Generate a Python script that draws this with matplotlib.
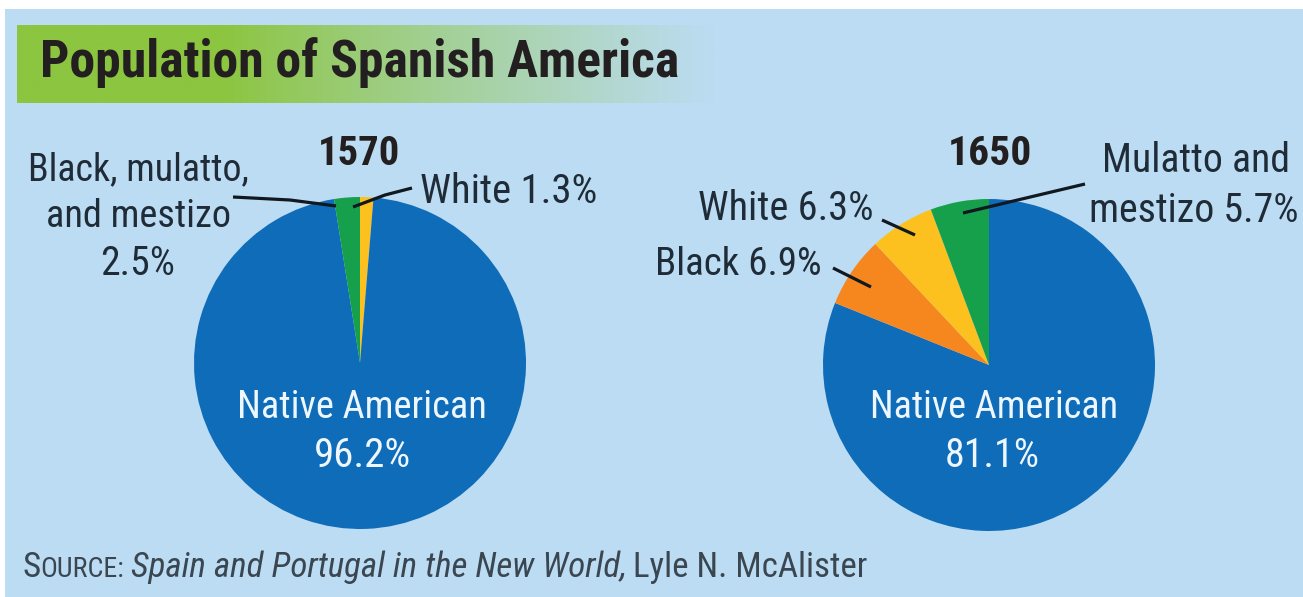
import matplotlib
matplotlib.use("Agg")
import matplotlib.pyplot as plt
import numpy as np
from matplotlib import font_manager
from matplotlib.patches import Rectangle
from matplotlib.colors import to_rgb

# ---------------- data ----------------
title = "Population of Spanish America"
years = ["1570", "1650"]

labels_1570 = ["White", "Native American", "Black, mulatto, and mestizo"]
values_1570 = [1.3, 96.2, 2.5]

labels_1650 = ["Native American", "Black", "White", "Mulatto and mestizo"]
values_1650 = [81.1, 6.9, 6.3, 5.7]

source_parts = ["S", "OURCE:", "Spain and Portugal in the New World,", "Lyle N. McAlister"]

# ---------------- style ----------------
W, H, DPI = 1303, 597, 100
BG = "#bcdcf3"
BLUE = "#0f6cb8"
GREEN = "#17a04b"
YELLOW = "#fdc11f"
ORANGE = "#f6871f"
BANNER = "#8cc540"
TXT = "#1f2c37"
WHITE_TXT = "#eef7ff"

colors_1570 = [YELLOW, BLUE, GREEN]
colors_1650 = [BLUE, ORANGE, YELLOW, GREEN]

names = {f.name for f in font_manager.fontManager.ttflist}
FONT = "DejaVu Sans"
for cand in ["Liberation Sans Narrow", "Roboto Condensed", "Open Sans Condensed",
             "Liberation Sans", "Roboto"]:
    if cand in names:
        FONT = cand
        break
plt.rcParams["font.family"] = [FONT, "DejaVu Sans"]

fig = plt.figure(figsize=(W / DPI, H / DPI), dpi=DPI, facecolor="white")

# background axes in pixel coordinates
bg = fig.add_axes([0, 0, 1, 1])
bg.add_patch(Rectangle((5, 9), W - 5, H - 9, color=BG, zorder=0, lw=0))
# green banner fading into the background
xs = np.linspace(0, 1, 400)
t = np.clip((xs - 0.30) / 0.70, 0, 1) ** 0.9
c0, c1 = np.array(to_rgb(BANNER)), np.array(to_rgb(BG))
row = c0[None, :] * (1 - t[:, None]) + c1[None, :] * t[:, None]
grad = np.repeat(row[None, :, :], 2, axis=0)
bg.imshow(grad, extent=(17, 715, 103, 25), aspect="auto", zorder=1, interpolation="bilinear")
bg.set_xlim(0, W)
bg.set_ylim(H, 0)
bg.axis("off")


def pie_axes(cx, cy, r):
    ax = fig.add_axes([(cx - r) / W, (H - cy - r) / H, 2 * r / W, 2 * r / H])
    ax.set_xlim(-1, 1)
    ax.set_ylim(-1, 1)
    ax.axis("off")
    return ax


ax1 = pie_axes(360, 363, 166)
ax1.pie(values_1570, colors=colors_1570, startangle=90, counterclock=False,
        radius=1, wedgeprops=dict(linewidth=0))
ax1.set_xlim(-1, 1); ax1.set_ylim(-1, 1)

ax2 = pie_axes(989, 365, 166)
ax2.pie(values_1650, colors=colors_1650, startangle=90, counterclock=False,
        radius=1, wedgeprops=dict(linewidth=0))
ax2.set_xlim(-1, 1); ax2.set_ylim(-1, 1)

# overlay axes for texts and leader lines (pixel coordinates)
ov = fig.add_axes([0, 0, 1, 1])
ov.set_xlim(0, W)
ov.set_ylim(H, 0)
ov.axis("off")
ov.patch.set_alpha(0)

fig.canvas.draw()
R = fig.canvas.get_renderer()


def fit(txt, target_w):
    bb = txt.get_window_extent(renderer=R)
    txt.set_fontsize(txt.get_fontsize() * target_w / bb.width)
    return txt


def put(x, y, s, w, ha="center", **kw):
    t = ov.text(x, y, s, ha=ha, va="baseline", fontsize=20, **kw)
    return fit(t, w)


# title
put(40, 77, title, 637, ha="left", fontweight="bold", color="#231f20")

# years
put(359, 165, years[0], 82, fontweight="bold", color="#231f20")
put(990, 165, years[1], 84, fontweight="bold", color="#231f20")

# 1570 labels
put(138, 180, "Black, mulatto,", 220, color=TXT)
put(138, 227, "and mestizo", 185, color=TXT)
put(138, 275, f"{values_1570[2]}%", 75, color=TXT)
put(420, 203, f"{labels_1570[0]} {values_1570[0]}%", 177, ha="left", color=TXT)
put(362, 418, labels_1570[1], 249, color=WHITE_TXT)
put(362, 467, f"{values_1570[1]}%", 97, color=WHITE_TXT)

# 1650 labels
put(1196, 172, "Mulatto and", 187, color=TXT)
put(1194, 222, f"mestizo {values_1650[3]}%", 210, color=TXT)
put(698, 220, f"{labels_1650[2]} {values_1650[2]}%", 175, ha="left", color=TXT)
put(655, 275, f"{labels_1650[1]} {values_1650[1]}%", 167, ha="left", color=TXT)
put(994, 418, labels_1650[0], 248, color=WHITE_TXT)
put(992, 467, f"{values_1650[0]}%", 95, color=WHITE_TXT)

# leader lines
lk = dict(color="#111820", lw=2.3, solid_capstyle="butt")
ov.plot([233, 290, 336], [197, 200, 206], **lk)
ov.plot([412, 385, 353], [188, 195, 207], **lk)
ov.plot([1085, 963], [184, 213], **lk)
ov.plot([882, 915], [220, 235], **lk)
ov.plot([833, 871], [268, 287], **lk)

# source line
base = 20
styles = [dict(fontsize=base), dict(fontsize=base * 0.8),
          dict(fontsize=base, style="italic"), dict(fontsize=base)]
gaps = [0.0, 0.0, 0.28, 0.28]
texts = []
for s, st in zip(source_parts, styles):
    texts.append(ov.text(0, 577, s, ha="left", va="baseline", color="#3a4650", **st))
widths = [t.get_window_extent(renderer=R).width for t in texts]
total = sum(widths) + sum(g * base for g in gaps)
k = 845 / total
x = 22
for t, wdt, g in zip(texts, widths, gaps):
    x += g * base * k
    t.set_fontsize(t.get_fontsize() * k)
    t.set_x(x)
    x += wdt * k

fig.savefig("out.png", dpi=DPI, facecolor="white")
